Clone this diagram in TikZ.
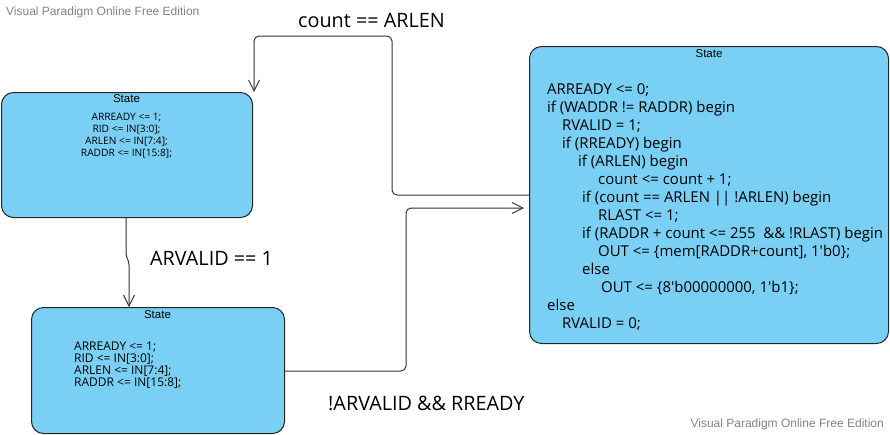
\documentclass[tikz,border=0pt]{standalone}
\usepackage{fontspec}
\setmainfont{Open Sans}
\newfontfamily\lsans{Liberation Sans}
\usetikzlibrary{arrows.meta}
\definecolor{stfill}{RGB}{122,207,245}
\definecolor{wm}{RGB}{130,130,130}
\begin{document}
\begin{tikzpicture}[x=1pt,y=-1pt,
 statebox/.style={draw=black!85, line width=1pt, fill=stfill, rounded corners=12pt, anchor=north west, inner sep=0pt},
 title/.style={font=\lsans\fontsize{11.5}{13}\selectfont, inner sep=0pt},
 conn/.style={draw=black!80, line width=1pt, rounded corners=5pt, -{Straight Barb[length=11pt,width=11pt]}},
 lab/.style={font=\fontsize{19.8}{23}\selectfont, inner sep=0pt, anchor=west},
 wmark/.style={font=\lsans\fontsize{12}{14}\selectfont, text=wm, inner sep=0pt}]
\useasboundingbox (0,0) rectangle (890,434);

\node[statebox, minimum width=251pt, minimum height=125pt] (s1) at (1,92) {};
\node[statebox, minimum width=253pt, minimum height=126pt] (s2) at (31,307) {};
\node[statebox, minimum width=359pt, minimum height=297pt] (s3) at (529,46) {};

\node[title] (t1) at (126.5,99) {State};
\node[title] (t2) at (157.5,315) {State};
\node[title] (t3) at (709,54) {State};

\node[inner sep=0pt, align=center, font=\fontsize{10.2}{12}\selectfont] (b1) at (126.5,136)
 {ARREADY <= 1;\\ RID <= IN[3:0];\\ ARLEN <= IN[7:4];\\ RADDR <= IN[15:8];};
\node[inner sep=0pt, align=left, anchor=west, font=\fontsize{12}{12}\selectfont] (b2) at (74,365)
 {ARREADY <= 1;\\ RID <= IN[3:0];\\ ARLEN <= IN[7:4];\\ RADDR <= IN[15:8];};
\node[inner sep=0pt, align=left, anchor=west, font=\fontsize{14.95}{18}\selectfont] (b3) at (547,207.5)
 {ARREADY <= 0;\\
  if (WADDR != RADDR) begin\\
  \hspace*{15pt}RVALID = 1;\\
  \hspace*{15pt}if (RREADY) begin\\
  \hspace*{31pt}if (ARLEN) begin\\
  \hspace*{51pt}count <= count + 1;\\
  \hspace*{35pt}if (count == ARLEN || !ARLEN) begin\\
  \hspace*{51pt}RLAST <= 1;\\
  \hspace*{35pt}if (RADDR + count <= 255\ \ \&\& !RLAST) begin\\
  \hspace*{51pt}OUT <= \{mem[RADDR+count], 1\textquotesingle b0\};\\
  \hspace*{35pt}else\\
  \hspace*{54pt}OUT <= \{8\textquotesingle b00000000, 1\textquotesingle b1\};\\
  else\\
  \hspace*{15pt}RVALID = 0;};

\draw[conn] (s3.west |- 0,195) -| (392,36) -| ([xshift=1pt]s1.north east);
\draw[conn, rounded corners=3pt] (s1.south -| 126,0) -- (126,256) -- (129,262) -- (s2.north -| 129,0);
\draw[conn, shorten >=5pt] (s2.east |- 0,371) -| (406,208) -- (s3.west |- 0,208);

\node[lab] (l1) at (298,20) {count == ARLEN};
\node[lab] (l2) at (150,258) {ARVALID == 1};
\node[lab] (l3) at (328,403) {!ARVALID \&\& RREADY};

\node[wmark, anchor=west] (w1) at (6,12) {Visual Paradigm Online Free Edition};
\node[wmark, anchor=east] (w2) at (884,424) {Visual Paradigm Online Free Edition};
\end{tikzpicture}
\end{document}
